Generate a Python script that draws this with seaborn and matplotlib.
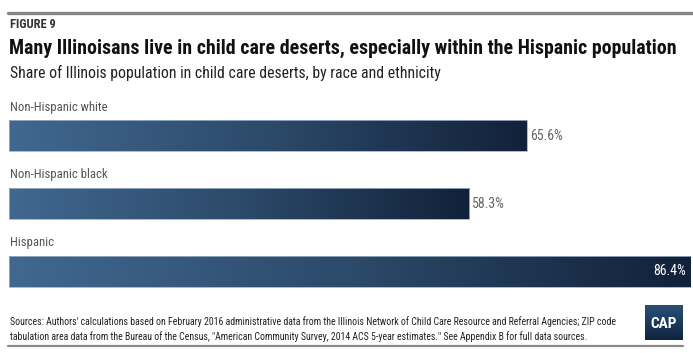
import numpy as np
import pandas as pd
import matplotlib
matplotlib.use('Agg')
import matplotlib.pyplot as plt
from matplotlib.colors import LinearSegmentedColormap
import seaborn as sns

groups = ['Non-Hispanic white', 'Non-Hispanic black', 'Hispanic']
shares = [65.6, 58.3, 86.4]
value_labels = ['65.6%', '58.3%', '86.4%']

title = 'Many Illinoisans live in child care deserts, especially within the Hispanic population'
subtitle = 'Share of Illinois population in child care deserts, by race and ethnicity'
source = ('Sources: Authors\' calculations based on February 2016 administrative data from the Illinois '
          'Network of Child Care Resource and Referral Agencies; ZIP code\n'
          'tabulation area data from the Bureau of the Census, "American Community Survey, 2014 ACS '
          '5-year estimates." See Appendix B for full data sources.')

sns.set_style('white')
plt.rcParams['font.family'] = ['Roboto Condensed', 'Liberation Sans Narrow', 'Roboto', 'DejaVu Sans']

df = pd.DataFrame({'group': groups, 'share': shares})
grad = LinearSegmentedColormap.from_list('cap', ['#416890', '#2c4a6a', '#12213a'])

fig = plt.figure(figsize=(6.93, 3.53), dpi=100)
ax = fig.add_axes([9 / 693, 1 - 305 / 353, 682 / 693, 203 / 353])

sns.barplot(data=df, x='share', y='group', orient='h', color='#2c4a6a',
            width=0.46, ax=ax, edgecolor='#9db0c4', linewidth=0.6)
ax.axis('off')

g = np.linspace(0, 1, 256).reshape(1, -1)
for i, p in enumerate(ax.patches):
    x0, y0 = p.get_x(), p.get_y()
    w, h = p.get_width(), p.get_height()
    im = ax.imshow(g, cmap=grad, aspect='auto', extent=(x0, x0 + w, y0 + h, y0),
                   zorder=p.get_zorder() - 0.1)
    im.set_clip_path(p)
    p.set_facecolor('none')
    # category label above the bar
    ax.text(0.1, y0 - 0.1, groups[i], ha='left', va='bottom', fontsize=9.2,
            color='#555555')
    if i == 2:
        ax.text(x0 + w - 0.6, i, value_labels[i], ha='right', va='center',
                fontsize=10, color='white')
    else:
        ax.text(x0 + w + 0.4, i, value_labels[i], ha='left', va='center',
                fontsize=10, color='#666666')
ax.set_xlim(0, 86.4)
ax.set_ylim(2.5, -0.5)

# header
fig.add_artist(plt.Line2D([8 / 693, 1], [1 - 12.5 / 353] * 2, color='#858585', lw=2.4))
fig.text(10 / 693, 1 - 24 / 353, 'FIGURE 9', fontsize=9, fontweight='bold',
         color='#333333', va='center')
fig.text(9 / 693, 1 - 48 / 353, title, fontsize=14.3, fontweight='bold',
         color='#111111', va='center')
fig.text(10 / 693, 1 - 73 / 353, subtitle, fontsize=11.3, color='#222222', va='center')

# footer
fig.text(10 / 693, 1 - 329 / 353, source, fontsize=7.1, color='#222222', va='center',
         linespacing=1.45)
fig.add_artist(plt.Line2D([8 / 693, 683 / 693], [1 - 345.5 / 353] * 2, color='#8a8a8a', lw=1.6))

logo = fig.add_axes([645 / 693, 1 - 340 / 353, 38 / 693, 35 / 353])
logo.imshow(np.linspace(0, 1, 64).reshape(-1, 1), cmap=LinearSegmentedColormap.from_list(
    'logo', ['#2a5077', '#0f2440']), aspect='auto', extent=(0, 1, 0, 1))
logo.text(0.5, 0.45, 'CAP', ha='center', va='center', color='white', fontsize=11,
          fontweight='bold')
logo.set_xlim(0, 1)
logo.set_ylim(0, 1)
logo.axis('off')

fig.savefig('out.png', dpi=100)
